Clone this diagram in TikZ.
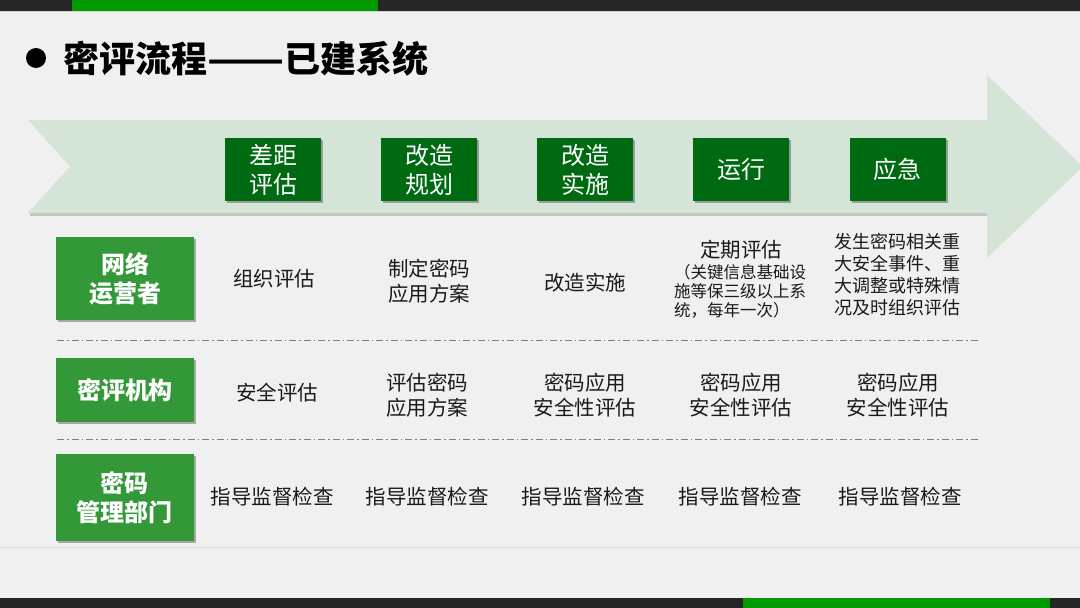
\documentclass[tikz,border=0pt]{standalone}
\usepackage{fontspec}
\usepackage{graphicx}
\setmainfont{Noto Sans CJK SC}
\usetikzlibrary{shadows}
\definecolor{bgc}{HTML}{F0F0F0}
\definecolor{darkbar}{HTML}{262626}
\definecolor{bargreen}{HTML}{009A00}
\definecolor{arrowc}{HTML}{D4E4D6}
\definecolor{stagegreen}{RGB}{0,106,18}
\definecolor{rolegreen}{RGB}{51,153,56}
\definecolor{textc}{HTML}{1A1A1A}
\definecolor{sepc}{HTML}{808080}
\tikzset{
  softshadow/.style={drop shadow={shadow xshift=2pt,shadow yshift=-2pt,opacity=0.3,fill=black}},
  stagebox/.style={fill=stagegreen, text=white, minimum width=96pt, minimum height=63pt, inner sep=0pt, align=center, font=\fontsize{24}{29}\selectfont, softshadow},
  rolebox/.style={fill=rolegreen, text=white, minimum width=138pt, inner sep=0pt, align=center, font=\bfseries\fontsize{24}{29}\selectfont, softshadow},
  cell/.style={text=textc, align=center, inner sep=0pt, font=\fontsize{20.5}{25}\selectfont},
  sepline/.style={draw=sepc, line width=0.9pt, dash pattern=on 7pt off 3pt on 1.5pt off 3pt},
}
\begin{document}
\begin{tikzpicture}[x=1pt,y=-1pt]
\fill[bgc] (0,0) rectangle (1080,608);
\useasboundingbox (0,0) rectangle (1080,608);
% top and bottom bars
\fill[darkbar] (0,0) rectangle (1080,10.5);
\fill[bargreen] (72,0) rectangle (378,10.5);
\draw[draw=black!18, line width=0.6pt] (0,11) -- (1080,11);
\fill[darkbar] (0,598) rectangle (1080,608);
\fill[bargreen] (743,598) rectangle (1050,608);
\draw[draw=black!14, line width=1pt] (0,547) -- (1080,547);
% title
\fill[black] (36,58) circle (10);
\node[anchor=west, inner sep=0pt, font=\bfseries\fontsize{36}{40}\selectfont, text=black] (title) at (63,59) {密评流程\scalebox{1.25}[1]{——}已建系统};
% big arrow
\fill[black, opacity=0.18] (30,213) -- (988,213) -- (988,216) -- (30,216) -- cycle;
\fill[arrowc] (28,120) -- (987,120) -- (987,75) -- (1083,166.5) -- (987,258) -- (987,213) -- (28,213) -- (70,166.5) -- cycle;
% stage boxes
\node[stagebox] (s1) at (273,169.5) {差距\\评估};
\node[stagebox] (s2) at (429,169.5) {改造\\规划};
\node[stagebox] (s3) at (585,169.5) {改造\\实施};
\node[stagebox] (s4) at (741,169.5) {运行};
\node[stagebox] (s5) at (897.5,169.5) {应急};
% role boxes
\node[rolebox, minimum height=83pt] (r1) at (125,278.5) {网络\\运营者};
\node[rolebox, minimum height=64pt] (r2) at (125,390) {密评机构};
\node[rolebox, minimum height=87pt] (r3) at (124.5,497.5) {密码\\管理部门};
% separators
\coordinate (d1a) at (57,340);
\coordinate (d1b) at (980,340);
\coordinate (d2a) at (57,439);
\coordinate (d2b) at (980,439);
\draw[sepline] (d1a) -- (d1b);
\draw[sepline] (d2a) -- (d2b);
% row 1
\node[cell] (a1) at (274,279) {组织评估};
\node[cell] (a2) at (429,281) {制定密码\\应用方案};
\node[cell] (a3) at (585,283) {改造实施};
\node[cell] (a4t) at (741,250) {定期评估};
\node[text=textc, align=left, inner sep=0pt, anchor=north west, font=\fontsize{16.5}{19}\selectfont] (a4) at (674,264) {（关键信息基础设\\施等保三级以上系\\统，每年一次）};
\node[text=textc, align=left, inner sep=0pt, anchor=north west, font=\fontsize{18}{22}\selectfont] (a5) at (834,233) {发生密码相关重\\大安全事件、重\\大调整或特殊情\\况及时组织评估};
% row 2
\node[cell] (b1) at (277,393) {安全评估};
\node[cell] (b2) at (427,395) {评估密码\\应用方案};
\node[cell] (b3) at (585,395) {密码应用\\安全性评估};
\node[cell] (b4) at (741,395) {密码应用\\安全性评估};
\node[cell] (b5) at (898,395) {密码应用\\安全性评估};
% row 3
\node[cell] (c1) at (272,497) {指导监督检查};
\node[cell] (c2) at (427,497) {指导监督检查};
\node[cell] (c3) at (583,497) {指导监督检查};
\node[cell] (c4) at (740,497) {指导监督检查};
\node[cell] (c5) at (900,497) {指导监督检查};
\end{tikzpicture}
\end{document}
